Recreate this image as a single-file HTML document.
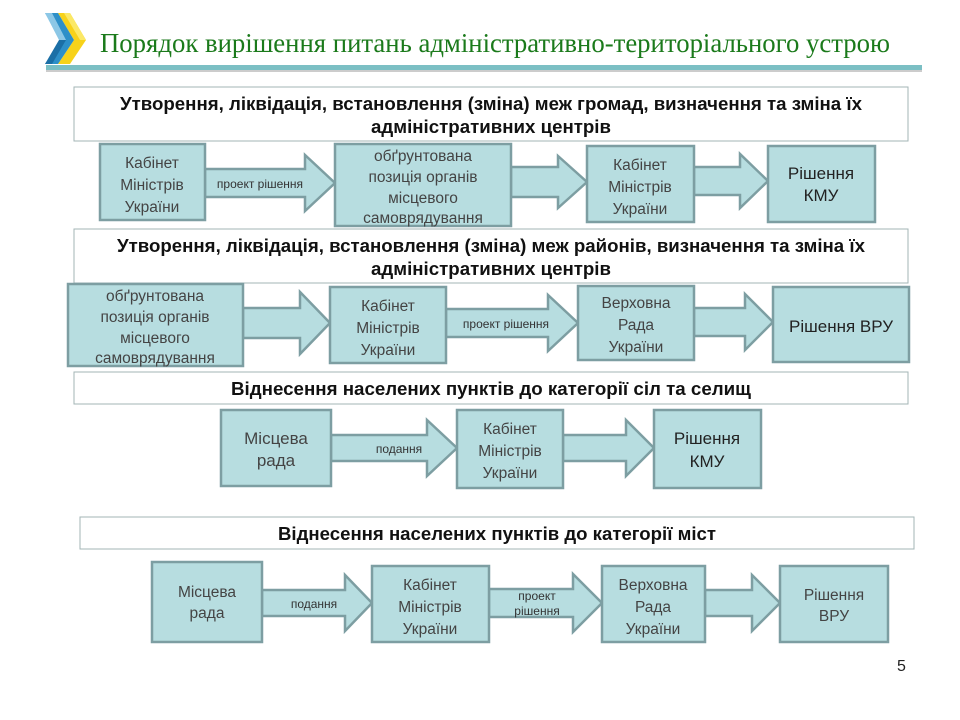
<!DOCTYPE html>
<html><head><meta charset="utf-8"><style>
html,body{margin:0;padding:0;background:#fff;width:960px;height:720px;overflow:hidden}
svg text{font-family:"Liberation Sans",sans-serif}
</style></head><body>
<svg width="960" height="720" xmlns="http://www.w3.org/2000/svg">
<polygon points="58,13 70,13 86,40 70,64 58,64 74,40" fill="#f7d21a"/>
<polygon points="64,13 70,13 86,40 80,40" fill="#fbe866"/>
<polygon points="45,13 58,13 74,40 58,64 45,64 61,40" fill="#2d8fc8"/>
<polygon points="45,13 52,13 66,40 59,40" fill="#8cc7e6"/>
<polygon points="45,64 52,64 66,40 59,40" fill="#1b6fa6"/>
<text x="100" y="52" font-size="27" fill="#1b7a1b" textLength="790" lengthAdjust="spacingAndGlyphs" style="font-family:'Liberation Serif',serif">Порядок вирішення питань адміністративно-територіального устрою</text>
<rect x="46" y="65" width="876" height="5" fill="#7bbfc4"/>
<rect x="46" y="70" width="876" height="2" fill="#ccc"/>

<g fill="#fff" stroke="#a3b4b6" stroke-width="1">
<rect x="74" y="87" width="834" height="54"/>
<rect x="74" y="229" width="834" height="54"/>
<rect x="74" y="372" width="834" height="32"/>
<rect x="80" y="517" width="834" height="32"/>
</g>
<g font-weight="bold" font-size="18" fill="#111" text-anchor="middle">
<text x="491" y="110" textLength="742" lengthAdjust="spacingAndGlyphs">Утворення, ліквідація, встановлення (зміна) меж громад, визначення та зміна їх</text>
<text x="491" y="133" textLength="240" lengthAdjust="spacingAndGlyphs">адміністративних центрів</text>
<text x="491" y="252" textLength="748" lengthAdjust="spacingAndGlyphs">Утворення, ліквідація, встановлення (зміна) меж районів, визначення та зміна їх</text>
<text x="491" y="275" textLength="240" lengthAdjust="spacingAndGlyphs">адміністративних центрів</text>
<text x="491" y="395" textLength="520" lengthAdjust="spacingAndGlyphs">Віднесення населених пунктів до категорії сіл та селищ</text>
<text x="497" y="540" textLength="438" lengthAdjust="spacingAndGlyphs">Віднесення населених пунктів до категорії міст</text>
</g>

<g fill="#b7dde0" stroke="#7d9ea2" stroke-width="2.5">
<polygon points="205,169 305,169 305,155 335,183 305,211 305,197 205,197"/>
<polygon points="511,167 558,167 558,156 587,182 558,208 558,197 511,197"/>
<polygon points="694,167 740,167 740,154 768,181 740,208 740,195 694,195"/>
<polygon points="243,308 300,308 300,292 330,323 300,354 300,338 243,338"/>
<polygon points="446,309 548,309 548,295 578,323 548,351 548,337 446,337"/>
<polygon points="694,308 745,308 745,294 773,322 745,350 745,336 694,336"/>
<polygon points="331,435 427,435 427,420 457,448 427,476 427,461 331,461"/>
<polygon points="563,435 626,435 626,420 654,448 626,476 626,461 563,461"/>
<polygon points="262,590 345,590 345,575 372,603 345,631 345,616 262,616"/>
<polygon points="489,589 573,589 573,574 602,603 573,632 573,617 489,617"/>
<polygon points="705,590 752,590 752,575 780,603 752,631 752,616 705,616"/>

<rect x="100" y="144" width="105" height="76"/>
<rect x="335" y="144" width="176" height="82"/>
<rect x="587" y="146" width="107" height="76"/>
<rect x="768" y="146" width="107" height="76"/>
<rect x="68" y="284" width="175" height="82"/>
<rect x="330" y="287" width="116" height="76"/>
<rect x="578" y="286" width="116" height="74"/>
<rect x="773" y="287" width="136" height="75"/>
<rect x="221" y="410" width="110" height="76"/>
<rect x="457" y="410" width="106" height="78"/>
<rect x="654" y="410" width="107" height="78"/>
<rect x="152" y="562" width="110" height="80"/>
<rect x="372" y="566" width="117" height="76"/>
<rect x="602" y="566" width="103" height="76"/>
<rect x="780" y="566" width="108" height="76"/>
</g>

<g font-size="12" fill="#333" text-anchor="middle">
<text x="260" y="188">проект  рішення</text>
<text x="506" y="328">проект  рішення</text>
<text x="399" y="453">подання</text>
<text x="314" y="608">подання</text>
<text x="537" y="600">проект</text>
<text x="537" y="615">рішення</text>
</g>

<g font-size="15.5" fill="#444" text-anchor="middle">
<text x="152" y="168">Кабінет</text><text x="152" y="190">Міністрів</text><text x="152" y="212">України</text>
<text x="423" y="161">обґрунтована</text><text x="423" y="182">позиція органів</text><text x="423" y="203">місцевого</text><text x="423" y="223">самоврядування</text>
<text x="640" y="170">Кабінет</text><text x="640" y="192">Міністрів</text><text x="640" y="214">України</text>
<text x="821" y="179" font-size="17" fill="#222">Рішення</text><text x="821" y="201" font-size="17" fill="#222">КМУ</text>
<text x="155" y="301">обґрунтована</text><text x="155" y="322">позиція органів</text><text x="155" y="343">місцевого</text><text x="155" y="363">самоврядування</text>
<text x="388" y="311">Кабінет</text><text x="388" y="333">Міністрів</text><text x="388" y="355">України</text>
<text x="636" y="308">Верховна</text><text x="636" y="330">Рада</text><text x="636" y="352">України</text>
<text x="841" y="332" font-size="17" fill="#222">Рішення ВРУ</text>
<text x="276" y="444" font-size="17">Місцева</text><text x="276" y="466" font-size="17">рада</text>
<text x="510" y="434">Кабінет</text><text x="510" y="456">Міністрів</text><text x="510" y="478">України</text>
<text x="707" y="444" font-size="17" fill="#222">Рішення</text><text x="707" y="467" font-size="17" fill="#222">КМУ</text>
<text x="207" y="597">Місцева</text><text x="207" y="618">рада</text>
<text x="430" y="590">Кабінет</text><text x="430" y="612">Міністрів</text><text x="430" y="634">України</text>
<text x="653" y="590">Верховна</text><text x="653" y="612">Рада</text><text x="653" y="634">України</text>
<text x="834" y="600">Рішення</text><text x="834" y="621">ВРУ</text>
</g>
<text x="897" y="671" font-size="16" fill="#222">5</text>
</svg>
</body></html>
